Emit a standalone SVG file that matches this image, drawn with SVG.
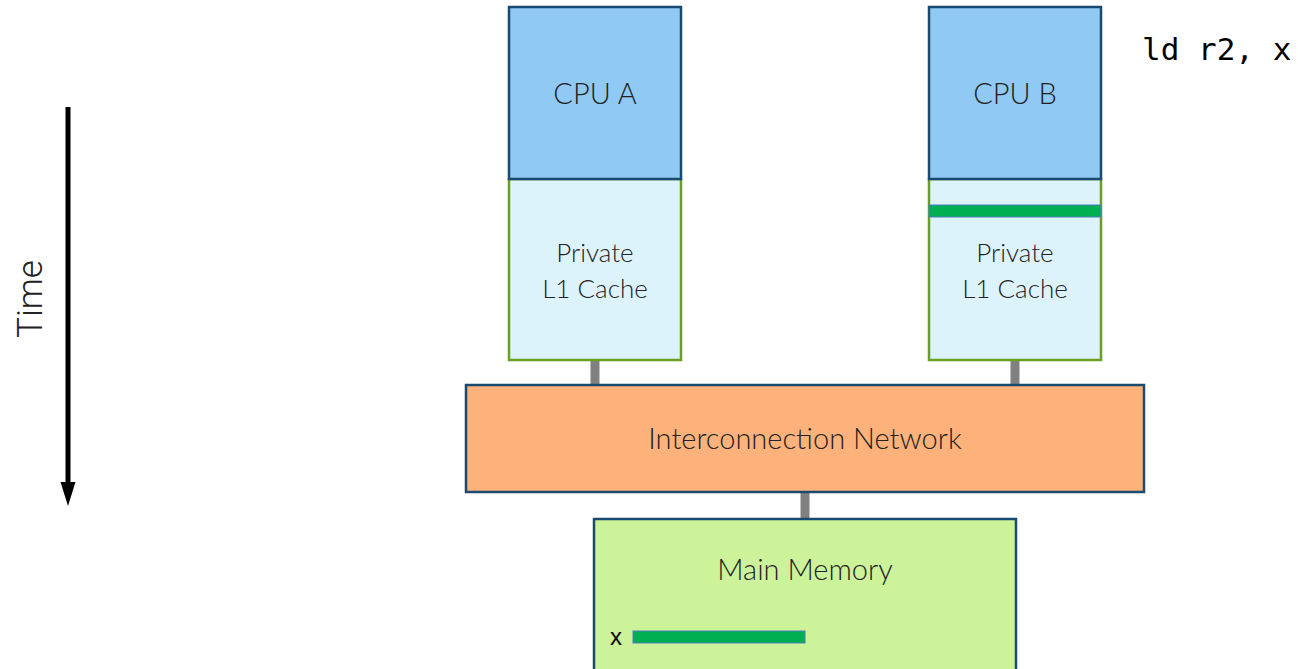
<svg xmlns="http://www.w3.org/2000/svg" width="1298" height="669" viewBox="0 0 1298 669">
<style>
.lbl{font-family:Lato,"Open Sans","Liberation Sans",sans-serif;font-weight:300;fill:#222;text-anchor:middle}
.cpu{fill:#8fc9f4;stroke:#1b4a70;stroke-width:2.5}
.cache{fill:#ddf3fb;stroke:#6a9f24;stroke-width:2.5}
.net{fill:#fdb17b;stroke:#1b4a70;stroke-width:2.5}
.mem{fill:#ccf29a;stroke:#1b4a70;stroke-width:2.5}
.bar{fill:#00b050;stroke:#4f7bbd;stroke-width:1}
.wire{stroke:#808080;stroke-width:9;fill:none}
</style>
<g id="connectors">
<line class="wire" x1="595" y1="360" x2="595" y2="385"/>
<line class="wire" x1="1015" y1="360" x2="1015" y2="385"/>
<line class="wire" x1="805" y1="492" x2="805" y2="519"/>
</g>
<g id="time-axis">
<line x1="68" y1="107" x2="68" y2="484" stroke="#000" stroke-width="5"/>
<path d="M60.5,482 L75.5,482 L68,506 Z" fill="#000"/>
<text transform="translate(42,299) rotate(-90)" style="font-family:Roboto,'Liberation Sans',sans-serif;font-weight:300;font-size:35px;fill:#222;text-anchor:middle">Time</text>
</g>
<g id="cacheA">
<rect class="cache" x="509" y="179" width="172" height="181"/>
<text class="lbl" x="595" y="262" font-size="26">Private</text>
<text class="lbl" x="595" y="298" font-size="26">L1 Cache</text>
</g>
<g id="cpuA">
<rect class="cpu" x="509" y="7" width="172" height="172"/>
<text class="lbl" x="595" y="104" font-size="29">CPU A</text>
</g>
<g id="cacheB">
<rect class="cache" x="929" y="179" width="172" height="181"/>
<rect class="bar" x="929" y="205" width="172" height="12"/>
<text class="lbl" x="1015" y="262" font-size="26">Private</text>
<text class="lbl" x="1015" y="298" font-size="26">L1 Cache</text>
</g>
<g id="cpuB">
<rect class="cpu" x="929" y="7" width="172" height="172"/>
<text class="lbl" x="1015" y="104" font-size="29">CPU B</text>
</g>
<g id="network">
<rect class="net" x="466" y="385" width="678" height="107"/>
<text class="lbl" x="805" y="449" font-size="29">Interconnection Network</text>
</g>
<g id="memory">
<rect class="mem" x="594" y="519" width="422" height="160"/>
<text class="lbl" x="805" y="580" font-size="29">Main Memory</text>
<text x="610" y="645" style="font-family:'Liberation Sans',sans-serif;font-size:24px;fill:#000">x</text>
<rect class="bar" x="633" y="631" width="172" height="12"/>
</g>
<g id="instr">
<text x="1142" y="60" style="font-family:'DejaVu Sans Mono',monospace;font-size:31px;fill:#000">ld r2, x</text>
</g>
</svg>
